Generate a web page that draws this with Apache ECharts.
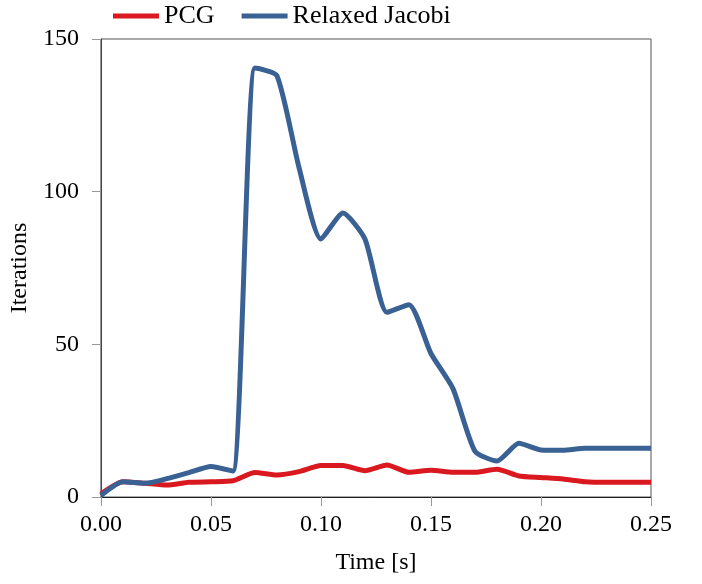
<!DOCTYPE html>
<html>
<head>
<meta charset="utf-8">
<script src="https://cdn.jsdelivr.net/npm/echarts@6/dist/echarts.min.js"></script>
<style>
  html, body { margin: 0; padding: 0; background: #fff; }
  #main { width: 702px; height: 584px; }
</style>
</head>
<body>
<div id="main"></div>
<script>
// time samples [s]
const times = [0, 0.01, 0.02, 0.03, 0.04, 0.05, 0.06, 0.07, 0.08, 0.09, 0.10, 0.11, 0.12,
  0.13, 0.14, 0.15, 0.16, 0.17, 0.18, 0.19, 0.20, 0.21, 0.22, 0.23, 0.24, 0.25]

// iterations per solver
const pcg = [1, 5, 4.5, 3.9, 4.8, 5.0, 5.3, 8, 7.2, 8.3, 10.3, 10.3, 8.6,
  10.5, 8.1, 8.8, 8.1, 8.1, 9.1, 6.9, 6.4, 5.9, 5.0, 4.8, 4.8, 4.8]
const jacobi = [0.5, 5, 4.5, 6, 8, 10, 8.5, 140.5, 138, 108, 84.5, 93, 84.5,
  60.5, 63, 47, 35.5, 15, 11.8, 17.6, 15.4, 15.3, 16, 16, 16, 16]

const xTicks = [0, 0.05, 0.10, 0.15, 0.20, 0.25]
const yTicks = [0, 50, 100, 150]

const font = 'Liberation Serif'
const red = '#d9181f'
const blue = '#3a6193'

const pairs = (ys) => times.map((t, i) => [t, ys[i]])

let myChart = echarts.init(document.getElementById('main'))

let option = {
  animation: false,
  textStyle: { fontFamily: font },
  legend: {
    left: 108,
    top: -2,
    icon: 'rect',
    itemWidth: 46,
    itemHeight: 5,
    itemGap: 27,
    textStyle: { fontFamily: font, fontSize: 26, color: '#000' },
    data: ['PCG', 'Relaxed Jacobi']
  },
  grid: {
    left: 100,
    right: 51,
    top: 39,
    bottom: 87,
    show: true,
    borderColor: '#555',
    borderWidth: 1
  },
  xAxis: {
    type: 'value',
    min: xTicks[0],
    max: xTicks[xTicks.length - 1],
    interval: 0.05,
    name: 'Time [s]',
    nameLocation: 'middle',
    nameGap: 54,
    nameTextStyle: { fontFamily: font, fontSize: 24, color: '#000' },
    axisLine: { show: true, lineStyle: { color: '#222', width: 1 } },
    axisTick: { show: true, inside: false, length: 9, lineStyle: { color: '#999' } },
    axisLabel: {
      margin: 16,
      fontFamily: font, fontSize: 24, color: '#000',
      formatter: v => v.toFixed(2)
    },
    splitLine: { show: false }
  },
  yAxis: {
    type: 'value',
    min: yTicks[0],
    max: yTicks[yTicks.length - 1],
    interval: 50,
    name: 'Iterations',
    nameLocation: 'middle',
    nameGap: 66,
    nameTextStyle: { fontFamily: font, fontSize: 24, color: '#000' },
    axisLine: { show: true, lineStyle: { color: '#444', width: 1 } },
    axisTick: { show: true, inside: false, length: 9, lineStyle: { color: '#999' } },
    axisLabel: { margin: 22, fontFamily: font, fontSize: 24, color: '#000' },
    splitLine: { show: false }
  },
  series: [
    {
      name: 'PCG',
      type: 'line',
      data: pairs(pcg),
      smooth: 0.2,
      showSymbol: false,
      color: red,
      lineStyle: { color: red, width: 5 },
      z: 2
    },
    {
      name: 'Relaxed Jacobi',
      type: 'line',
      data: pairs(jacobi),
      smooth: 0.2,
      showSymbol: false,
      color: blue,
      lineStyle: { color: blue, width: 5 },
      z: 3
    }
  ]
}

myChart.setOption(option)
</script>
</body>
</html>
